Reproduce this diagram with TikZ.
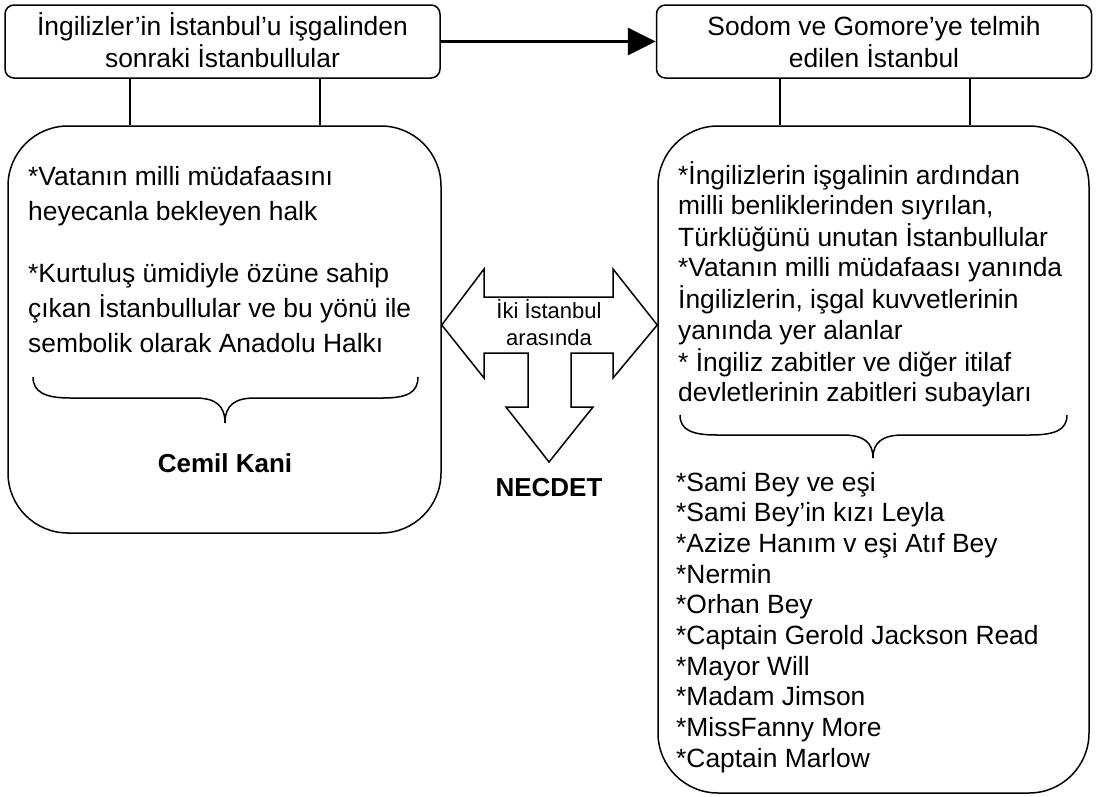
\documentclass[tikz,border=0pt]{standalone}
\usepackage{fontspec}
\setmainfont{Liberation Sans}
\usetikzlibrary{arrows.meta,calc}
\begin{document}
\begin{tikzpicture}[x=1pt,y=-1pt,
  titlebox/.style={draw,line width=1.5pt,rounded corners=9pt,minimum width=435pt,minimum height=73pt,inner sep=0pt},
  bigbox/.style={draw,line width=1.5pt,rounded corners=60pt,inner sep=0pt},
  titletext/.style={inner sep=0pt,anchor=base,font=\fontsize{26.4}{32}\selectfont},
  bodytext/.style={inner sep=0pt,anchor=base west},
  boldname/.style={inner sep=0pt,anchor=base,font=\fontsize{26}{30}\selectfont\bfseries},
  midtext/.style={inner sep=0pt,anchor=base,font=\fontsize{22}{27}\selectfont},
  link/.style={line width=1.2pt},
  brace/.style={line width=1.5pt},
  bigarrow/.style={draw,line width=1.5pt,line join=miter}]
\useasboundingbox (0,0) rectangle (1096,796);

% title boxes
\node[titlebox] (tl) at (222.5,41.5) {};
\node[titletext] (tlt) at (222.5,35) {\begin{tabular}[t]{@{}c@{}}İngilizler’in İstanbul’u işgalinden\\ sonraki İstanbullular\end{tabular}};
\node[titlebox] (tr) at (874,41.5) {};
\node[titletext] (trt) at (874,35) {\begin{tabular}[t]{@{}c@{}}Sodom ve Gomore’ye telmih\\ edilen İstanbul\end{tabular}};

\draw[line width=3pt,-{Triangle[length=28pt,width=27pt]}] (tl.east) -- (tr.west);

% large boxes
\node[bigbox,minimum width=433pt,minimum height=407pt] (bl) at (224.5,329.5) {};
\node[bigbox,minimum width=431pt,minimum height=667pt] (br) at (873.5,459.5) {};

% connectors between title boxes and large boxes
\coordinate (xa) at (130,0);
\coordinate (xb) at (320,0);
\coordinate (xc) at (780,0);
\coordinate (xd) at (970,0);
\draw[link] (tl.south -| xa) -- (bl.north -| xa);
\draw[link] (tl.south -| xb) -- (bl.north -| xb);
\draw[link] (tr.south -| xc) -- (br.north -| xc);
\draw[link] (tr.south -| xd) -- (br.north -| xd);

% left box text
\node[bodytext,font=\fontsize{26.4}{35}\selectfont] (ltxt) at (28,185) {\begin{tabular}[t]{@{}l@{}}{*}Vatanın milli müdafaasını\\ heyecanla bekleyen halk\\[27pt]
{*}Kurtuluş ümidiyle özüne sahip\\ çıkan İstanbullular ve bu yönü ile\\ sembolik olarak Anadolu Halkı\end{tabular}};

\draw[brace] (33,377) .. controls (33,392) and (45,398) .. (70,398) -- (195,398)
  .. controls (215,398) and (225,405) .. (225,423)
  .. controls (225,405) and (235,398) .. (255,398) -- (383,398)
  .. controls (408,398) and (418,392) .. (418,377);
\node[boldname] (cemil) at (225,472) {Cemil Kani};

% right box text
\node[bodytext,font=\fontsize{26.4}{30.4}\selectfont] (rtxt) at (678,184) {\begin{tabular}[t]{@{}l@{}}{*}İngilizlerin işgalinin ardından\\ milli benliklerinden sıyrılan,\\ Türklüğünü unutan İstanbullular\\ {*}Vatanın milli müdafaası yanında\\ İngilizlerin, işgal kuvvetlerinin\\ yanında yer alanlar\\ {*} İngiliz zabitler ve diğer itilaf\\ devletlerinin zabitleri subayları\end{tabular}};

\draw[brace] (680,415) .. controls (680,430) and (692,435) .. (717,435) -- (843,435)
  .. controls (863,435) and (873,442) .. (873,458)
  .. controls (873,442) and (883,435) .. (903,435) -- (1030,435)
  .. controls (1055,435) and (1067,430) .. (1067,415);

\node[bodytext,font=\fontsize{26.4}{30.7}\selectfont] (rlist) at (676,491) {\begin{tabular}[t]{@{}l@{}}{*}Sami Bey ve eşi\\ {*}Sami Bey’in kızı Leyla\\ {*}Azize Hanım v eşi Atıf Bey\\ {*}Nermin\\ {*}Orhan Bey\\ {*}Captain Gerold Jackson Read\\ {*}Mayor Will\\ {*}Madam Jimson\\ {*}MissFanny More\\ {*}Captain Marlow\end{tabular}};

% three-way block arrow between the two boxes
\draw[bigarrow] (bl.east |- 0,325) -- (484,269) -- (484,297) -- (613,297) -- (613,269)
  -- (br.west |- 0,325) -- (613,378) -- (613,353) -- (571,353) -- (571,407) -- (593,407)
  -- (549,462) -- (506,407) -- (528,407) -- (528,353) -- (484,353) -- (484,378) -- cycle;
\node[midtext] (mid) at (549,318) {\begin{tabular}[t]{@{}c@{}}İki İstanbul\\ arasında\end{tabular}};
\node[boldname] (necdet) at (549,496) {NECDET};
\end{tikzpicture}
\end{document}
